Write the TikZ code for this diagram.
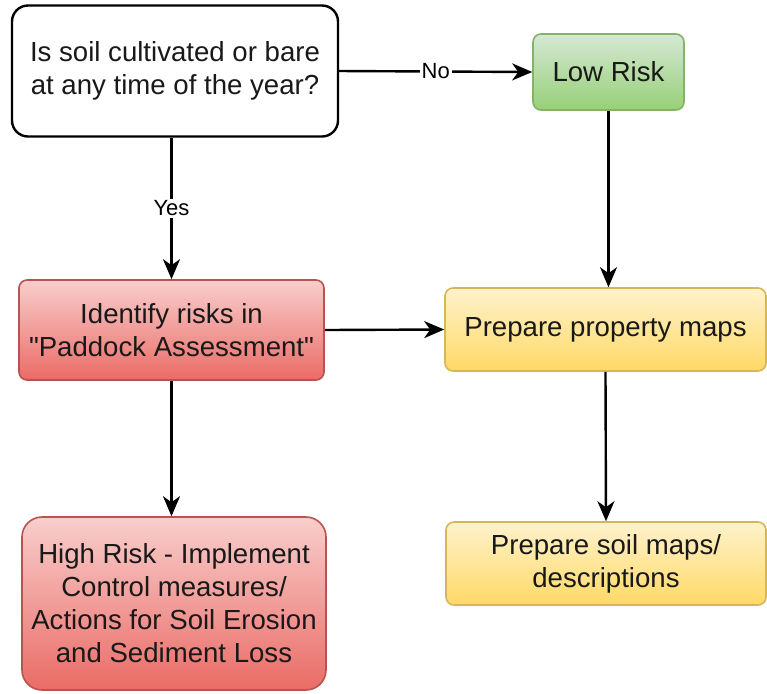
\documentclass[tikz,border=0pt]{standalone}
\usepackage{fontspec}
\setmainfont{Liberation Sans}[Ligatures=TeXOff]
\usepackage{xcolor}
\usetikzlibrary{positioning,shapes,arrows.meta,calc}

\definecolor{greentop}{HTML}{D5E8D4}
\definecolor{greenbot}{HTML}{97D077}
\definecolor{greenline}{HTML}{82B366}
\definecolor{redtop}{HTML}{F8CECC}
\definecolor{redbot}{HTML}{EA6B66}
\definecolor{redline}{HTML}{B85450}
\definecolor{yellowtop}{HTML}{FFF2CC}
\definecolor{yellowbot}{HTML}{FFD966}
\definecolor{yellowline}{HTML}{D6B656}

\begin{document}
\begin{tikzpicture}[x=0.5pt,y=-0.5pt,
    box/.style={rounded corners=4pt,align=center,inner sep=2pt,
        font=\fontsize{13.8}{16.5}\selectfont,text=black!90},
    question/.style={box,draw=black,line width=1.2pt,fill=white,rounded corners=8pt},
    lowbox/.style={box,draw=greenline,line width=0.8pt,top color=greentop,bottom color=greenbot},
    riskbox/.style={box,draw=redline,line width=0.8pt,top color=redtop,bottom color=redbot},
    mapbox/.style={box,draw=yellowline,line width=0.8pt,top color=yellowtop,bottom color=yellowbot},
    flow/.style={line width=1.2pt,-{Stealth[length=10pt,width=8.5pt,inset=3pt]}},
    lbl/.style={fill=white,inner sep=1pt,font=\fontsize{11}{13}\selectfont}]
    \useasboundingbox (0,0) rectangle (767,693);

    % Boxes
    \node[question,minimum width=163pt,minimum height=65.5pt] (soil) at (175,71)
        {Is soil cultivated or bare\\at any time of the year?};
    \node[lowbox,minimum width=75.5pt,minimum height=38pt] (low) at (608.5,72) {Low Risk};
    \node[riskbox,minimum width=152.5pt,minimum height=50pt] (ident) at (171.5,330)
        {Identify risks in\\"Paddock Assessment"};
    \node[riskbox,rounded corners=10pt,minimum width=152pt,minimum height=86.5pt] (high) at (174,603.5)
        {High Risk - Implement\\Control measures/\\Actions for Soil Erosion\\and Sediment Loss};
    \node[mapbox,minimum width=160.5pt,minimum height=41.5pt] (prop) at (605.5,329.5)
        {Prepare property maps};
    \node[mapbox,minimum width=160pt,minimum height=41.5pt] (smaps) at (606,563.5)
        {Prepare soil maps/\\descriptions};

    % Arrows
    \draw[flow] (soil.east) -- node[lbl] {No} (low.west);
    \draw[flow] (soil.south -| ident) -- node[lbl] {Yes} (ident.north);
    \draw[flow] (low.south) -- (low.south |- prop.north);
    \draw[flow] (ident.east) -- (prop.west);
    \draw[flow] (ident.south) -- (ident.south |- high.north);
    \draw[flow] (prop.south) -- (smaps.north);
\end{tikzpicture}
\end{document}
